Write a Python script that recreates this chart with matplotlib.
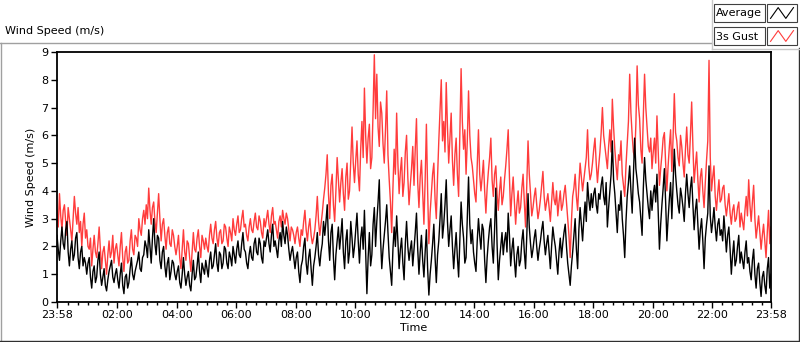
import numpy as np
import matplotlib
matplotlib.use("Agg")
import matplotlib.pyplot as plt
from matplotlib.patches import Rectangle
from matplotlib.lines import Line2D

plt.rcParams['font.family'] = ['DejaVu Sans']

# ---- data (2.5-minute samples, 23:58 -> 23:58 next day), m/s ----
avg_speed = [
    2.4,1.9,1.5,2.2,2.7,2.1,1.9,2.6,2.9,1.8,1.3,1.9,2.2,1.5,1.7,2.3,2.5,1.6,1.2,1.8,2.0,1.3,1.6,1.4,
    1.0,1.4,1.6,0.9,0.5,1.1,1.3,0.7,0.9,1.5,1.8,1.0,0.6,0.9,1.2,0.6,0.4,0.8,1.1,1.3,1.5,0.9,0.7,1.0,
    1.2,0.8,0.5,1.0,1.4,0.6,0.3,0.9,1.0,0.5,0.7,1.2,1.6,1.0,0.8,1.1,1.3,1.5,1.8,1.2,1.1,1.6,1.7,2.2,
    2.0,1.6,2.6,2.0,1.4,2.3,3.0,2.1,1.7,2.4,2.3,1.5,1.2,1.8,2.0,1.3,0.9,1.4,1.6,0.8,1.1,1.5,1.4,1.0,
    0.8,1.1,1.3,0.7,0.5,1.0,1.6,1.0,0.6,0.9,1.1,0.6,0.4,1.0,1.5,0.8,0.9,1.3,1.8,1.1,0.7,1.4,1.2,1.0,
    1.5,1.2,0.9,1.5,1.8,1.2,1.3,1.7,2.1,1.4,1.1,1.8,1.7,1.2,1.4,2.0,1.9,1.4,1.2,1.8,1.6,1.3,2.0,1.7,
    1.4,1.9,2.2,1.7,1.6,2.1,2.5,1.9,1.8,1.4,1.2,1.7,2.0,1.6,1.5,2.1,2.3,1.8,1.7,2.3,2.1,1.6,1.4,2.2,
    2.0,2.3,2.6,2.1,1.8,2.4,2.8,2.0,2.2,1.9,1.6,2.2,2.5,2.0,2.9,2.4,2.1,2.7,2.4,1.9,1.5,1.8,2.0,1.6,
    1.2,1.6,1.8,1.1,0.7,1.3,1.5,2.0,2.3,1.4,1.0,1.6,1.9,1.2,0.6,1.3,1.6,2.0,2.5,1.7,1.3,1.8,2.1,2.9,
    2.4,2.9,3.5,2.2,1.5,2.5,2.8,1.6,0.8,1.7,2.2,2.7,1.9,2.4,3.0,1.8,1.2,2.2,2.6,1.4,1.8,2.9,2.3,1.6,
    2.0,2.6,3.2,2.2,1.4,2.3,2.7,1.9,3.3,1.8,0.3,1.6,2.5,1.3,1.7,2.8,3.4,2.0,2.9,3.6,4.4,2.3,1.2,1.9,
    2.4,2.9,3.5,2.5,1.6,1.1,0.6,1.9,2.7,2.0,3.1,2.2,1.2,1.9,2.3,1.4,0.8,2.1,2.9,2.0,1.5,1.9,2.2,1.3,
    1.9,2.5,3.2,1.9,1.0,1.8,2.4,1.5,0.9,1.8,2.6,1.2,0.25,1.0,1.5,2.1,2.8,1.6,0.7,1.7,2.2,3.0,3.9,2.3,
    2.8,3.5,4.4,2.9,2.0,2.6,3.1,2.0,1.2,1.9,2.5,1.6,0.9,2.2,3.6,2.8,2.3,1.4,1.6,3.0,4.5,2.8,2.1,2.6,
    1.8,1.4,1.1,2.2,3.0,2.4,1.9,2.8,2.6,1.5,0.7,1.6,2.2,2.7,3.0,2.0,1.4,2.6,4.1,2.1,0.8,1.5,2.0,2.5,
    1.7,2.2,2.5,1.8,3.2,2.4,1.3,1.9,2.3,1.5,0.9,1.7,2.0,1.3,1.5,2.2,2.6,1.8,1.2,2.4,3.9,2.7,2.1,1.6,
    1.9,2.3,2.6,2.0,1.5,1.9,2.2,2.6,2.9,2.2,1.7,2.1,2.4,1.8,1.2,2.0,2.7,2.3,2.0,1.5,1.0,1.8,2.3,1.6,
    2.1,2.5,2.8,2.0,1.4,1.0,0.6,1.3,1.8,2.4,3.0,1.9,1.2,2.6,3.4,2.8,2.2,3.0,3.6,2.9,4.3,3.7,3.3,3.9,
    3.4,3.9,4.1,3.5,3.2,3.9,3.7,4.2,4.5,3.8,3.5,4.3,2.7,3.4,4.0,4.6,5.8,4.4,3.9,3.2,2.5,3.5,3.3,4.0,
    3.0,2.4,1.6,2.9,3.8,4.3,4.9,4.0,3.2,4.6,5.9,4.8,4.4,3.9,3.6,3.0,2.4,4.1,5.2,4.4,3.9,3.4,3.0,4.0,
    3.3,3.9,4.2,3.6,4.6,3.2,1.9,2.8,3.5,4.1,4.8,3.6,2.2,3.0,3.7,4.3,3.0,4.2,5.5,4.6,4.0,3.5,3.2,4.1,
    3.8,3.4,2.9,3.9,4.6,3.9,3.4,4.1,4.5,3.5,2.6,3.3,3.7,2.8,1.9,2.6,3.0,2.2,1.2,2.3,2.8,3.2,4.9,3.1,
    2.5,2.9,3.4,2.7,2.2,2.8,3.0,2.4,2.6,2.2,3.1,2.5,1.8,2.4,2.7,1.9,1.0,1.7,2.2,1.3,1.5,2.0,2.4,1.4,
    1.8,1.5,1.2,1.8,2.2,1.4,1.6,1.1,0.8,1.5,1.9,1.0,0.5,1.2,1.4,0.7,0.2,0.9,1.1,0.6,0.3,1.2,1.6,0.5,
    1.0,
]

gust_speed = [
    3.3,2.7,3.9,3.1,2.6,3.3,3.5,2.9,2.4,3.4,3.0,2.6,2.2,3.0,3.8,3.2,2.8,3.4,2.5,2.9,2.0,2.8,3.2,2.3,
    2.6,2.0,1.9,2.3,1.3,1.9,2.4,1.8,1.6,2.1,2.7,1.9,1.2,1.8,2.0,1.5,1.0,1.7,2.2,1.6,1.8,2.4,1.4,1.9,
    2.1,1.7,1.3,2.0,2.5,1.6,1.1,1.8,2.0,1.4,1.5,2.2,2.6,1.9,1.7,2.4,2.3,2.0,3.0,2.6,2.4,3.0,3.3,2.8,
    3.5,3.0,4.1,3.3,2.8,3.4,3.6,2.9,2.5,3.2,3.9,3.0,2.2,2.8,3.0,2.4,1.9,2.5,2.7,2.1,2.0,2.6,2.4,2.0,
    1.7,2.0,2.4,1.6,1.2,1.9,2.6,1.8,1.5,2.2,2.1,1.6,1.1,1.8,2.5,1.9,1.8,2.3,2.6,2.0,1.6,2.4,2.2,1.9,
    2.3,2.0,1.8,2.4,2.8,2.3,2.1,2.6,2.9,2.3,2.0,2.5,2.6,2.1,2.2,2.8,2.7,2.3,2.0,2.7,2.5,2.2,3.0,2.6,
    2.4,2.8,3.1,2.5,2.6,3.0,3.3,2.7,2.8,2.4,2.2,2.7,3.0,2.6,2.5,2.9,3.2,2.7,2.6,3.1,2.9,2.5,2.3,3.0,
    2.7,3.0,3.3,2.8,2.5,3.1,3.4,2.8,2.9,2.6,2.3,2.9,3.1,2.7,3.3,3.0,2.8,3.2,3.0,2.6,2.2,2.7,2.6,2.4,
    2.1,2.5,2.7,2.3,2.0,2.6,2.4,2.9,3.3,2.6,2.2,2.7,3.0,2.4,2.1,2.3,2.6,3.1,3.8,2.9,2.4,2.8,3.2,3.7,
    4.1,4.6,5.3,3.9,3.0,4.2,4.6,3.5,2.9,4.0,5.2,4.4,3.6,4.3,4.8,3.9,3.3,4.5,5.0,3.7,4.0,5.1,6.3,5.0,
    4.3,5.1,5.8,4.6,4.0,5.5,6.5,5.2,7.7,6.0,5.0,5.9,6.4,4.8,5.2,6.9,8.9,6.6,8.2,6.3,5.6,7.2,6.8,5.7,
    5.0,6.2,7.6,5.3,4.4,3.6,2.5,4.1,5.5,4.6,6.8,5.0,3.9,4.7,5.2,3.8,4.3,5.4,6.0,4.5,3.5,4.2,4.8,5.6,
    4.2,5.5,6.6,4.3,3.4,4.5,5.1,3.9,2.8,4.4,6.4,4.0,2.1,3.2,3.9,4.6,5.0,3.7,3.0,4.5,5.8,6.9,8.0,5.8,
    6.5,5.4,7.9,6.3,5.0,5.9,6.8,5.1,4.2,5.3,5.9,4.6,3.8,6.1,8.4,6.5,5.5,6.2,4.6,5.8,7.6,6.0,5.2,4.9,
    4.4,3.9,3.6,4.9,6.2,4.6,4.0,4.5,5.1,4.0,3.2,4.1,4.7,5.2,5.9,4.4,3.8,4.6,4.9,3.9,3.3,4.0,4.5,3.5,
    3.8,4.4,4.9,5.5,6.2,4.5,3.1,3.9,4.5,3.6,2.8,3.5,4.0,3.2,3.4,4.1,4.6,3.6,2.7,4.3,5.8,4.6,3.9,3.1,
    3.4,3.8,4.1,3.5,3.0,3.3,3.7,4.2,4.7,3.8,3.3,3.6,3.9,3.4,2.9,3.6,4.3,3.7,3.5,4.0,3.1,3.6,4.0,3.3,
    3.5,3.9,4.2,3.6,3.0,2.4,1.6,2.9,3.8,4.1,4.6,3.8,3.3,4.2,5.0,4.5,4.0,4.4,4.8,5.2,6.2,4.9,4.4,4.6,
    5.0,5.5,5.9,5.0,4.3,4.9,5.4,6.1,7.0,6.0,5.6,5.2,4.8,5.6,6.2,5.4,7.3,6.3,5.5,4.9,4.4,5.3,5.1,5.8,
    4.6,4.2,3.8,4.9,5.7,6.5,8.2,6.8,6.0,5.4,5.2,6.4,8.5,7.1,6.6,5.5,5.0,6.7,8.2,7.0,6.3,5.6,5.4,5.9,
    4.8,5.4,5.9,5.0,6.7,5.5,4.2,4.8,5.3,5.9,6.1,5.0,4.0,4.9,5.6,6.2,4.7,5.9,7.5,6.1,5.8,5.2,4.9,6.0,
    5.6,5.0,4.5,5.5,6.3,5.3,5.0,6.0,7.2,5.6,4.3,4.9,5.4,4.4,3.6,4.5,4.8,4.0,3.4,4.3,5.1,5.8,8.7,5.2,
    4.0,4.5,4.9,3.8,3.3,3.9,4.4,3.6,3.7,4.1,4.2,3.5,3.1,3.5,3.9,3.2,2.8,3.3,3.5,2.9,3.0,3.4,3.6,2.7,
    3.2,2.9,2.6,3.3,3.8,3.1,4.4,3.5,2.9,3.6,4.2,3.0,2.3,2.7,3.1,2.5,1.9,2.4,2.8,2.2,1.6,2.5,3.3,2.1,
    2.7,
]

tick_labels = ["23:58", "02:00", "04:00", "06:00", "08:00", "10:00", "12:00",
               "14:00", "16:00", "18:00", "20:00", "22:00", "23:58"]
tick_minutes = [0, 122, 242, 362, 482, 602, 722, 842, 962, 1082, 1202, 1322, 1440]
sample_step_min = 2.5

W, H = 800, 342
fig = plt.figure(figsize=(W / 100, H / 100), dpi=100)
fig.patch.set_facecolor("white")

def fx(x):
    return x / W

def fy(y):
    return 1 - y / H

# outer panel frame
fig.add_artist(Line2D([fx(0), fx(712)], [fy(42.5), fy(42.5)], color="#a0a0a0", lw=1.0))
fig.add_artist(Line2D([fx(0.5), fx(0.5)], [fy(42.5), fy(341)], color="#a0a0a0", lw=1.0))
fig.add_artist(Line2D([fx(0), fx(799)], [fy(341), fy(341)], color="#303030", lw=1.0))
fig.add_artist(Line2D([fx(798.5), fx(798.5)], [fy(48), fy(341)], color="#303030", lw=1.0))

# legend panel
fig.add_artist(Line2D([fx(712), fx(712)], [fy(0), fy(49)], color="#c8c8c8", lw=1.0))
fig.add_artist(Line2D([fx(712), fx(800)], [fy(49), fy(49)], color="#c8c8c8", lw=1.0))

fig.text(fx(5), fy(31), "Wind Speed (m/s)", fontsize=8, va="center", ha="left", color="black")

legend_items = [("Average", "black", 4), ("3s Gust", "#ff3c3c", 27)]
for label, col, ytop in legend_items:
    fig.add_artist(Rectangle((fx(714), fy(ytop + 18)), fx(51), 18 / H,
                             facecolor="white", edgecolor="#404040", lw=0.8, zorder=1))
    fig.text(fx(716), fy(ytop + 9.5), label, fontsize=8, va="center", ha="left", zorder=3)
    fig.add_artist(Rectangle((fx(767), fy(ytop + 18)), fx(30), 18 / H,
                             facecolor="white", edgecolor="#404040", lw=0.8, zorder=1))
    iax = fig.add_axes([fx(769), fy(ytop + 16), fx(26), 14 / H])
    iax.set_zorder(5)
    iax.patch.set_alpha(0)
    iax.plot([0, 1, 2, 3], [0, 1, 0, 1], color=col, lw=0.8)
    iax.set_xlim(-0.2, 3.2)
    iax.set_ylim(-0.15, 1.15)
    iax.axis("off")

# main axes
ax = fig.add_axes([fx(57), fy(302), fx(771 - 57), (302 - 52) / H])
t = np.arange(len(avg_speed)) * sample_step_min
ax.plot(t, gust_speed, color="#ff3c3c", lw=1.0)
ax.plot(t, avg_speed, color="black", lw=1.0)

ax.set_xlim(0, 1440)
ax.set_ylim(0, 9)
ax.set_yticks(range(10))
ax.set_xticks(tick_minutes)
ax.set_xticklabels(tick_labels)
ax.set_xticks([2 + 20 * k for k in range(72) if (2 + 20 * k) not in tick_minutes and 2 + 20 * k > 4],
              minor=True)
ax.tick_params(axis="both", which="major", length=4, width=1, labelsize=8, pad=2)
ax.tick_params(axis="x", which="minor", length=2.5, width=1)
for s in ax.spines.values():
    s.set_linewidth(1.3)
    s.set_color("black")
ax.set_xlabel("Time", fontsize=8, labelpad=2)
ax.set_ylabel("Wind Speed (m/s)", fontsize=8, labelpad=4)

fig.savefig("out.png", dpi=100)
